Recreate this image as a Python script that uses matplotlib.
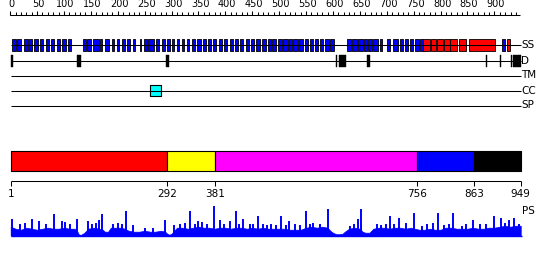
import matplotlib
matplotlib.use("Agg")
import matplotlib.pyplot as plt

# ---- data ----
seq_len = 949

# secondary structure: (start, end) residue ranges
helix = [(3, 11), (13, 20), (26, 33), (35, 41), (44, 52), (55, 61), (67, 72), (76, 81),
         (87, 93), (96, 104), (108, 113), (135, 141), (143, 150), (154, 165), (167, 171),
         (176, 184), (189, 193), (198, 202), (208, 214), (217, 223), (228, 232), (241, 243),
         (249, 254), (257, 268), (271, 277), (282, 288), (291, 297), (301, 305), (310, 314),
         (319, 323), (329, 332), (338, 344), (347, 355), (358, 364), (368, 373), (377, 383),
         (388, 394), (397, 403), (409, 414), (418, 424), (427, 433), (438, 444), (448, 453),
         (457, 464), (468, 476), (479, 484), (487, 495), (497, 505), (507, 516), (518, 523),
         (526, 535), (537, 544), (548, 554), (557, 563), (567, 572), (576, 582), (585, 593),
         (595, 602), (627, 634), (635, 644), (646, 656), (658, 663), (666, 672), (674, 683),
         (688, 691), (701, 706), (712, 721), (725, 730), (733, 739), (743, 749), (753, 759),
         (761, 767), (915, 920)]
strand = [(768, 781), (782, 792), (793, 805), (806, 817), (818, 830), (834, 847),
          (853, 901), (923, 929)]

# disorder
disorder = [(1, 6), (125, 131), (290, 296), (606, 608), (611, 624), (664, 669),
            (884, 886), (910, 912), (930, 932), (935, 949)]

# coiled coil
coiled = [(259, 281)]

# domains
dom_bounds = [1, 292, 381, 756, 863, 949]
dom_colors = ["#ff0000", "#ffff00", "#ff00ff", "#0000ff", "#000000"]

# PS profile: background level and spikes
ps_base_pos = [1, 10, 20, 30, 40, 50, 60, 70, 80, 90, 100, 110, 120, 125, 128, 132, 138,
               145, 155, 165, 172, 176, 182, 187, 195, 205, 213, 220, 230, 240, 250, 260,
               270, 280, 288, 292, 296, 300, 310, 320, 330, 340, 350, 360, 370, 380, 390,
               400, 410, 420, 430, 440, 450, 460, 470, 480, 490, 500, 510, 520, 530, 540,
               550, 560, 570, 580, 590, 595, 600, 606, 612, 618, 622, 630, 640, 650, 655,
               660, 668, 675, 685, 695, 705, 715, 725, 735, 745, 752, 760, 770, 780, 790,
               800, 810, 820, 830, 840, 850, 860, 870, 880, 890, 900, 910, 920, 930, 940, 949]
ps_base_val = [9, 7, 6, 8, 7, 6, 7, 8, 7, 7, 8, 7, 7, 4, 1, 1, 3,
               7, 8, 7, 6, 4, 4, 8, 8, 8, 7, 5, 4, 4, 5, 4,
               4, 5, 4, 2, 1, 2, 8, 8, 7, 8, 9, 8, 8, 7, 8,
               8, 7, 8, 8, 7, 8, 7, 8, 7, 7, 7, 7, 6, 6, 6,
               8, 9, 8, 9, 8, 5, 3, 1.5, 1.5, 2, 4, 7, 8, 7, 4,
               3, 3, 7, 8, 8, 7, 8, 8, 7, 8, 7, 6, 6, 7, 6,
               6, 8, 8, 7, 7, 7, 8, 7, 7, 8, 8, 9, 10, 9, 10, 10]
ps_peak_pos = [3, 18, 28, 40, 54, 66, 82, 96, 102, 112, 124, 145, 152, 160, 166, 171, 192,
               200, 207, 215, 229, 250, 266, 288, 305, 316, 325, 334, 343, 350, 356, 365,
               378, 390, 398, 409, 419, 426, 433, 445, 452, 461, 470, 477, 485, 495, 504,
               512, 518, 530, 538, 549, 557, 563, 576, 591, 632, 640, 647, 653, 681, 690,
               698, 706, 714, 722, 735, 751, 765, 775, 786, 796, 806, 815, 824, 839, 848,
               861, 873, 885, 899, 913, 920, 928, 937, 945]
ps_peak_val = [17, 12, 13, 17, 15, 12, 22, 15, 14, 12, 17, 15, 12, 13, 16, 22, 12,
               13, 12, 25, 11, 8, 8, 16, 11, 12, 13, 25, 12, 15, 14, 12,
               30, 16, 12, 15, 25, 12, 17, 12, 12, 20, 12, 11, 12, 11, 20,
               11, 15, 12, 11, 25, 12, 13, 12, 27, 10, 12, 17, 27, 12, 11,
               12, 20, 12, 18, 13, 23, 10, 12, 13, 23, 11, 12, 23, 10, 12,
               16, 12, 12, 20, 18, 13, 16, 18, 12]

ruler_major = list(range(0, 901, 50))
ruler_minor = list(range(0, 941, 10))

# ---- figure: one axes, x in residues, y in pixel rows ----
px = 0.538  # pixels per residue
fig = plt.figure(figsize=(5.5, 2.6), dpi=100)
ax = fig.add_axes([0, 0, 1, 1])
ax.set_xlim(1 - 10.7 / px, 1 + 539.3 / px)
ax.set_ylim(260, 0)
ax.axis("off")
lw = 0.75
fs = 7

# top ruler
ax.hlines(15, 0, seq_len - 1, color="black", lw=lw)
ax.vlines(ruler_minor, 12, 15, color="black", lw=lw)
ax.vlines(ruler_major, 10.5, 15, color="black", lw=lw)
for t in ruler_major:
    ax.text(t + 3, 9, str(t), ha="center", va="bottom", fontsize=fs)

# tracks
tracks = {"SS": 45, "D": 60.5, "TM": 75.5, "CC": 90.5, "SP": 105.5}
for name, y in tracks.items():
    ax.hlines(y, 1, seq_len, color="black", lw=lw)
    ax.text(seq_len + 1, y, name, ha="left", va="center", fontsize=fs + 0.5)

ax.broken_barh([(a, b - a) for a, b in helix], (39, 12), facecolors="#0000ff",
               edgecolors="black", lw=0.6)
ax.broken_barh([(a, b - a) for a, b in strand], (39, 12), facecolors="#ff0000",
               edgecolors="black", lw=0.6)
ax.broken_barh([(a, b - a) for a, b in disorder], (54.5, 12), facecolors="black",
               edgecolors="black", lw=0.3)
ax.broken_barh([(a, b - a) for a, b in coiled], (85, 11), facecolors="#00ffff",
               edgecolors="black", lw=0.8)

# domain bar
spans = [(dom_bounds[i], dom_bounds[i + 1] - dom_bounds[i]) for i in range(len(dom_colors))]
ax.broken_barh(spans, (150.5, 20), facecolors=dom_colors, edgecolors="black", lw=0.8)

# domain axis
ax.hlines(180.5, 1, seq_len, color="black", lw=lw)
ax.vlines(dom_bounds, 180.5, 186, color="black", lw=lw)
for b in dom_bounds:
    ax.text(b, 189, str(b), ha="center", va="top", fontsize=fs + 0.5)

# PS profile
base = 235.7
ax.fill_between(ps_base_pos, base, [base - v for v in ps_base_val], color="#0000ff", lw=0.5)
ax.vlines(ps_peak_pos, base, [base - v for v in ps_peak_val], color="#0000ff", lw=1.4)
ax.hlines(base, 1, seq_len + 3, color="#0000ff", lw=1)
ax.text(seq_len + 3, 211, "PS", ha="left", va="center", fontsize=fs + 0.5)

fig.savefig("out.png", dpi=100)
